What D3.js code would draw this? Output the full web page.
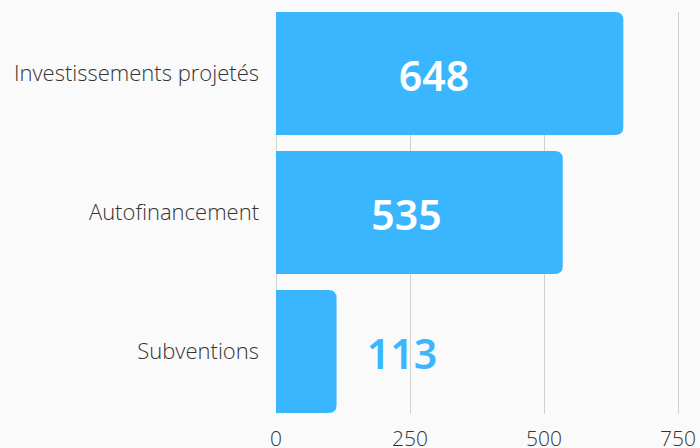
<!DOCTYPE html>
<html lang="fr">
<head>
<meta charset="UTF-8">
<title>Financement</title>
<script src="https://d3js.org/d3.v7.min.js"></script>
<style>
  body { margin: 0; background: #fafafa; }
  svg { display: block; }
  .cat { font-family: "Open Sans", sans-serif; font-weight: 300; font-size: 22px; fill: #333; }
  .tick-label { font-family: "Open Sans", sans-serif; font-weight: 300; font-size: 21px; fill: #333; }
  .val { font-family: "Noto Sans", sans-serif; font-weight: 600; font-size: 41px; }
</style>
</head>
<body>
<div id="chart"></div>
<script>
const categories = ["Investissements projetés", "Autofinancement", "Subventions"];
const values = [648, 535, 113];
const ticks = [0, 250, 500, 750];

const width = 700, height = 448;
const margin = { top: 12, right: 22, bottom: 35, left: 276 };
const barColor = "#3ab6ff";

const svg = d3.select("#chart").append("svg")
  .attr("width", width)
  .attr("height", height);

const x = d3.scaleLinear()
  .domain([0, 750])
  .range([margin.left, width - margin.right]);

const y = d3.scaleBand()
  .domain(categories)
  .range([margin.top, height - margin.bottom])
  .paddingInner(0.115)
  .paddingOuter(0);

// grid lines
svg.append("g").selectAll("line")
  .data(ticks)
  .enter().append("line")
  .attr("x1", d => x(d) + 0.5)
  .attr("x2", d => x(d) + 0.5)
  .attr("y1", margin.top)
  .attr("y2", height - margin.bottom + 1)
  .attr("stroke", "#d0d0d0")
  .attr("stroke-width", 1);

// tick labels (cut at the bottom edge, as in the original)
svg.append("g").selectAll("text")
  .data(ticks)
  .enter().append("text")
  .attr("class", "tick-label")
  .attr("x", d => x(d))
  .attr("y", height - 2)
  .attr("text-anchor", "middle")
  .text(d => d);

// bars with rounded right corners
const r = 8;
function barPath(d, i) {
  const x0 = x(0), x1 = x(d), y0 = y(categories[i]), h = y.bandwidth();
  return `M${x0},${y0}H${x1 - r}Q${x1},${y0} ${x1},${y0 + r}V${y0 + h - r}Q${x1},${y0 + h} ${x1 - r},${y0 + h}H${x0}Z`;
}

svg.append("g").selectAll("path")
  .data(values)
  .enter().append("path")
  .attr("d", barPath)
  .attr("fill", barColor);

// category labels
svg.append("g").selectAll("text")
  .data(categories)
  .enter().append("text")
  .attr("class", "cat")
  .attr("x", margin.left - 17)
  .attr("y", d => y(d) + y.bandwidth() / 2)
  .attr("dy", "0.35em")
  .attr("text-anchor", "end")
  .text(d => d);

// value labels
const labelPos = v => Math.max(v * 0.455, 235);
svg.append("g").selectAll("text")
  .data(values)
  .enter().append("text")
  .attr("class", "val")
  .attr("x", d => x(labelPos(d)))
  .attr("y", (d, i) => y(categories[i]) + y.bandwidth() / 2 + 3)
  .attr("dy", "0.36em")
  .attr("text-anchor", "middle")
  .attr("fill", d => x(labelPos(d)) + 40 < x(d) ? "#fff" : barColor)
  .text(d => d);
</script>
</body>
</html>
